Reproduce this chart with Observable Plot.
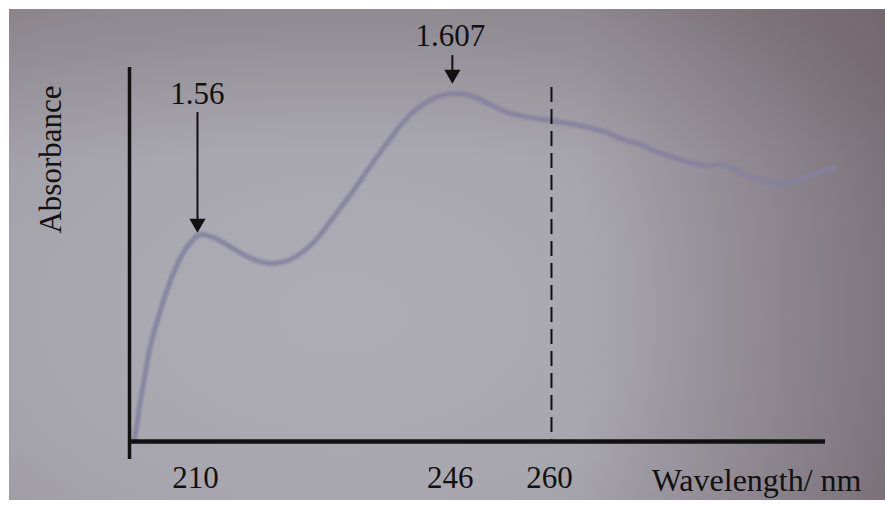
<!DOCTYPE html>
<html>
<head>
<meta charset="utf-8">
<script src="https://cdn.jsdelivr.net/npm/d3@7"></script>
<script src="https://cdn.jsdelivr.net/npm/@observablehq/plot@0.6"></script>
<style>
  html, body { margin: 0; padding: 0; background: #ffffff; width: 885px; height: 505px; overflow: hidden; }
  #photo {
    position: absolute; left: 9px; top: 9px; width: 876px; height: 491px;
    background:
      linear-gradient(to left, rgba(95,78,88,0.45) 0%, rgba(95,78,88,0.0) 35%),
      linear-gradient(to bottom, rgba(110,100,105,0.30) 0%, rgba(110,100,105,0.0) 30%),
      radial-gradient(ellipse 75% 85% at 38% 62%, #aeadb6 0%, #a8a7b0 45%, #9c98a0 80%, #8f898e 100%);
  }
  #chart { position: absolute; left: 0; top: 0; }
  #chart svg g[aria-label="line"] path { filter: blur(0.8px); }
</style>
</head>
<body>
<div id="photo"></div>
<div id="chart"></div>
<script>
// Spectrum (wavelength in nm, absorbance)
const wavelengths = [201.1, 201.53, 201.95, 202.51, 202.94, 203.36, 203.79, 204.35, 204.77, 205.48,
  206.19, 206.89, 207.6, 208.45, 209.29, 210.0, 210.85, 212.26, 213.67, 215.08,
  216.5, 217.91, 219.32, 220.31, 221.72, 223.14, 224.55, 226.24, 227.8, 229.49,
  231.19, 233.02, 234.86, 236.84, 238.67, 240.51, 242.49, 244.32, 246.0, 247.99,
  249.97, 253.79, 257.03, 260.0, 264.1, 267.91, 269.75, 272.57, 274.41, 276.81,
  279.21, 281.05, 282.46, 283.59, 284.72, 286.69, 288.53, 290.51, 292.34, 294.18,
  296.16, 297.99, 299.97];
const absorbance = [1.4913, 1.498, 1.5047, 1.512, 1.518, 1.523, 1.527, 1.5313, 1.5347, 1.54,
  1.5447, 1.5487, 1.5523, 1.5557, 1.558, 1.5597, 1.56, 1.559, 1.5573, 1.5553,
  1.5533, 1.5517, 1.5507, 1.5503, 1.5507, 1.5517, 1.5537, 1.557, 1.5613, 1.5667,
  1.572, 1.578, 1.5843, 1.5907, 1.5963, 1.601, 1.6043, 1.6063, 1.607, 1.6067,
  1.605, 1.6007, 1.599, 1.598, 1.5963, 1.594, 1.592, 1.59, 1.588, 1.586,
  1.5843, 1.5833, 1.583, 1.5835, 1.583, 1.5807, 1.579, 1.5777, 1.577, 1.5777,
  1.5793, 1.581, 1.5823];

// Tick labels on the wavelength axis
const tickWavelengths = [210, 246, 260];
// Peak annotations
const peakWavelengths = [210, 246];
const peakAbsorbance = [1.56, 1.607];
const peakLabels = ["1.56", "1.607"];
// Dashed marker
const markerWavelengths = [260];

const xDomain = [200.4, 298.7];
const yDomain = [1.4910, 1.6157];

const spectrum = wavelengths.map((wl, i) => ({wl, A: absorbance[i]}));
const peaks = peakWavelengths.map((wl, i) => ({wl, A: peakAbsorbance[i], text: peakLabels[i]}));

const FONT = "'Liberation Serif', 'Times New Roman', serif";
const INK = "#111";

const chart = Plot.plot({
  width: 885,
  height: 505,
  marginLeft: 129,
  marginRight: 60,
  marginTop: 67,
  marginBottom: 64,
  x: {domain: xDomain, label: null, axis: null},
  y: {domain: yDomain, label: null, axis: null},
  style: {background: "transparent", fontFamily: FONT, fontSize: "31px", color: INK, overflow: "visible"},
  marks: [
    // spectrum curve
    Plot.line(spectrum, {x: "wl", y: "A", curve: "catmull-rom", stroke: "#8582a0", strokeWidth: 5, strokeOpacity: 0.9}),
    // dashed marker at 260 nm
    Plot.ruleX(markerWavelengths, {insetTop: 20, stroke: INK, strokeWidth: 2, strokeDasharray: "15,7"}),
    // axes lines
    Plot.ruleX([xDomain[0]], {stroke: INK, strokeWidth: 3.5, insetBottom: -18}),
    Plot.ruleY([yDomain[0]], {stroke: INK, strokeWidth: 4.5}),
    // tick labels
    Plot.axisX({ticks: tickWavelengths, tickSize: 0, tickPadding: 24, tickFormat: d => String(d),
      fontSize: 31, fontFamily: FONT, fill: INK, dx: -2, label: null}),
    // axis titles
    Plot.text(["Wavelength/ nm"], {frameAnchor: "bottom-right", textAnchor: "end", lineAnchor: "bottom",
      dx: 36, dy: 49, fontSize: 32, fontFamily: FONT, fill: INK}),
    Plot.text(["Absorbance"], {frameAnchor: "left", rotate: -90, textAnchor: "middle", lineAnchor: "bottom",
      dx: -69, dy: -95, fontSize: 31, fontFamily: FONT, fill: INK}),
    // annotation: 1.56
    Plot.ruleX([peaks[0]], {x: "wl", y1: "A", y2: "A", insetTop: -14, insetBottom: 122, stroke: INK, strokeWidth: 2}),
    Plot.dot([peaks[0]], {x: "wl", y: "A", symbol: "triangle", r: 6, rotate: 180, fill: INK, stroke: "none", dy: -11.2}),
    Plot.text([peaks[0]], {x: "wl", y: "A", text: "text", textAnchor: "middle", lineAnchor: "bottom",
      dy: -131, fontSize: 31, fontFamily: FONT, fill: INK}),
    // annotation: 1.607
    Plot.ruleX([peaks[1]], {x: "wl", y1: "A", y2: "A", insetTop: -20, insetBottom: 38, stroke: INK, strokeWidth: 2}),
    Plot.dot([peaks[1]], {x: "wl", y: "A", symbol: "triangle", r: 6, rotate: 180, fill: INK, stroke: "none", dy: -19.2}),
    Plot.text([peaks[1]], {x: "wl", y: "A", text: "text", textAnchor: "middle", lineAnchor: "bottom",
      dx: -2, dy: -48, fontSize: 31, fontFamily: FONT, fill: INK})
  ]
});
document.getElementById("chart").append(chart);
</script>
</body>
</html>
